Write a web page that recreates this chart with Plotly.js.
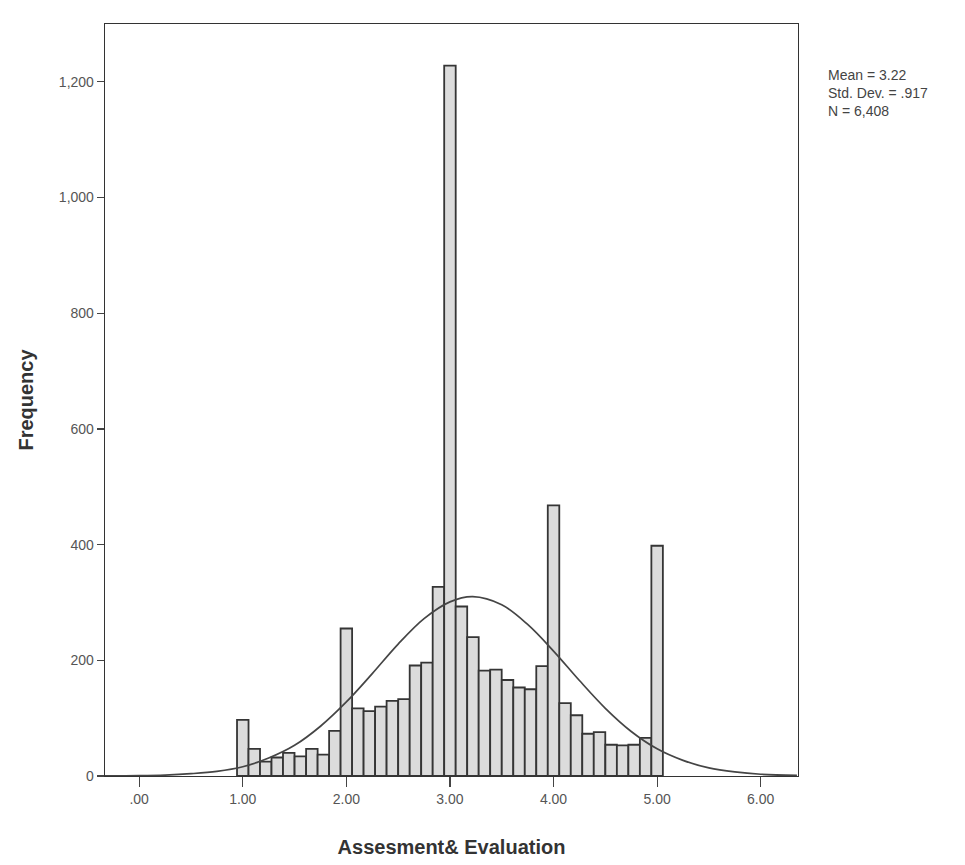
<!DOCTYPE html>
<html>
<head>
<meta charset="utf-8">
<script src="https://cdn.plot.ly/plotly-3.0.1.min.js"></script>
<style>
  html, body { margin: 0; padding: 0; background: #ffffff; }
  #chart { width: 965px; height: 865px; }
</style>
</head>
<body>
<div id="chart"></div>
<script>
// Histogram bins (bin centres, width 1/9)
const binCenters = [1.000, 1.111, 1.222, 1.333, 1.444, 1.556, 1.667, 1.778, 1.889,
                    2.000, 2.111, 2.222, 2.333, 2.444, 2.556, 2.667, 2.778, 2.889,
                    3.000, 3.111, 3.222, 3.333, 3.444, 3.556, 3.667, 3.778, 3.889,
                    4.000, 4.111, 4.222, 4.333, 4.444, 4.556, 4.667, 4.778, 4.889,
                    5.000];
const frequencies = [97, 47, 25, 32, 40, 34, 47, 37, 78,
                     255, 117, 112, 120, 130, 133, 191, 196, 327,
                     1228, 293, 240, 182, 184, 166, 153, 150, 190,
                     468, 126, 105, 73, 76, 54, 53, 54, 66,
                     398];
const binWidth = 1 / 9;

// Normal curve
const curveX = [-0.33, 0.00, 0.25, 0.50, 0.75, 1.00, 1.25, 1.50, 1.75, 2.00, 2.25, 2.50, 2.75,
                3.00, 3.22, 3.50, 3.75, 4.00, 4.25, 4.50, 4.75, 5.00, 5.25, 5.50, 5.75, 6.00, 6.35];
const curveY = [0.2, 0.6, 1.6, 4, 8, 16, 31, 53, 86, 128, 177, 228, 272,
                301, 310, 296, 262, 216, 165, 117, 77, 47, 27, 14, 7, 3, 1];

// Axis ticks
const xTickVals = [0, 1, 2, 3, 4, 5, 6];
const xTickText = ['.00', '1.00', '2.00', '3.00', '4.00', '5.00', '6.00'];
const yTickVals = [0, 200, 400, 600, 800, 1000, 1200];
const yTickText = ['0', '200', '400', '600', '800', '1,000', '1,200'];

const statsText = ['Mean = 3.22', 'Std. Dev. = .917', 'N = 6,408'];

const FONT = 'Liberation Sans, Arial, Helvetica, sans-serif';

const bars = {
  type: 'bar',
  x: binCenters,
  y: frequencies,
  width: binCenters.map(() => binWidth),
  marker: { color: '#dcdcdc', line: { color: '#353535', width: 1.8 } },
  hoverinfo: 'x+y',
  showlegend: false
};

const curve = {
  type: 'scatter',
  mode: 'lines',
  x: curveX,
  y: curveY,
  line: { color: '#454545', width: 1.7, shape: 'spline', smoothing: 1 },
  hoverinfo: 'skip',
  showlegend: false
};

const layout = {
  width: 965,
  height: 865,
  paper_bgcolor: '#ffffff',
  plot_bgcolor: '#ffffff',
  margin: { l: 105, r: 167, t: 24, b: 89 },
  bargap: 0,
  font: { family: FONT, color: '#444', size: 14 },
  xaxis: {
    range: [-0.33, 6.36],
    tickmode: 'array',
    tickvals: xTickVals,
    ticktext: xTickText,
    ticks: 'outside',
    ticklen: 10,
    tickwidth: 1.2,
    tickcolor: '#444',
    tickfont: { family: FONT, size: 14, color: '#555' },
    showgrid: false,
    zeroline: false,
    showline: true,
    linecolor: '#333',
    linewidth: 1.3,
    mirror: true,
    automargin: false,
    title: { text: 'Assesment& Evaluation', font: { family: FONT, size: 20, color: '#333', weight: 'bold' }, standoff: 34 }
  },
  yaxis: {
    range: [0, 1300],
    tickmode: 'array',
    tickvals: yTickVals,
    ticktext: yTickText,
    ticks: 'outside',
    ticklen: 7,
    tickwidth: 1.2,
    tickcolor: '#444',
    tickfont: { family: FONT, size: 14, color: '#555' },
    showgrid: false,
    zeroline: false,
    showline: true,
    linecolor: '#333',
    linewidth: 1.3,
    mirror: true,
    automargin: false,
    title: { text: 'Frequency', font: { family: FONT, size: 20, color: '#333', weight: 'bold' }, standoff: 20 }
  },
  annotations: [{
    xref: 'paper', yref: 'paper',
    x: 1.04, y: 0.945,
    xanchor: 'left', yanchor: 'top',
    align: 'left',
    showarrow: false,
    text: statsText.join('<br>'),
    font: { family: FONT, size: 14, color: '#444' }
  }]
};

Plotly.newPlot('chart', [bars, curve], layout, { displayModeBar: false, staticPlot: true });
</script>
</body>
</html>
